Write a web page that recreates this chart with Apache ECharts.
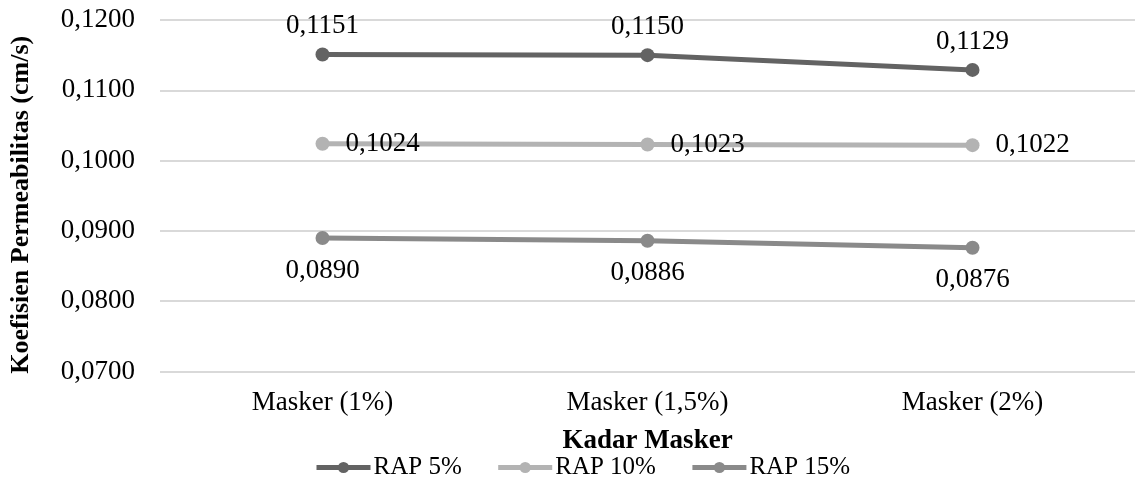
<!DOCTYPE html>
<html><head><meta charset="utf-8">
<script src="https://cdn.jsdelivr.net/npm/echarts@6/dist/echarts.min.js"></script>
<style>html,body{margin:0;padding:0;background:#fff}#c{width:1135px;height:486px}</style>
</head><body><div id="c"></div>
<script>
const categories = ['Masker (1%)', 'Masker (1,5%)', 'Masker (2%)'];
const rap5 = [0.1151, 0.1150, 0.1129];
const rap10 = [0.1024, 0.1023, 0.1022];
const rap15 = [0.0890, 0.0886, 0.0876];
const seriesNames = ['RAP 5%', 'RAP 10%', 'RAP 15%'];
const colors = ['#636363', '#b3b3b3', '#8a8a8a'];
const font = 'Liberation Serif';
const FS = 27;
const fmt = v => v.toFixed(4).replace('.', ',');

const chart = echarts.init(document.getElementById('c'));
function mk(name, data, color, pos, dist) {
  return {
    name, type: 'line', data, symbol: 'circle', symbolSize: 14,
    lineStyle: { color, width: 5 }, itemStyle: { color },
    label: { show: true, position: pos, distance: dist, color: '#000',
      fontFamily: font, fontSize: FS, formatter: p => fmt(p.value) },
    z: 3
  };
}
chart.setOption({
  animation: false,
  textStyle: { fontFamily: font },
  grid: { left: 153, width: 989, top: 20, bottom: 114.5, containLabel: false },
  xAxis: {
    type: 'category', data: categories, boundaryGap: true,
    axisLine: { show: false }, axisTick: { show: false },
    axisLabel: { color: '#000', fontFamily: font, fontSize: FS, margin: 18 },
    name: 'Kadar Masker', nameLocation: 'middle', nameGap: 56,
    nameTextStyle: { color: '#000', fontFamily: font, fontSize: FS, fontWeight: 'bold' }
  },
  yAxis: {
    type: 'value', min: 0.07, max: 0.12, interval: 0.01,
    axisLine: { show: false }, axisTick: { show: false },
    splitLine: { lineStyle: { color: '#d9d9d9', width: 2 } },
    axisLabel: { color: '#000', fontFamily: font, fontSize: FS, margin: 25, formatter: v => fmt(v) },
    name: 'Koefisien Permeabilitas (cm/s)', nameLocation: 'middle', nameGap: 126,
    nameTextStyle: { color: '#000', fontFamily: font, fontSize: 26, fontWeight: 'bold', padding: [0, 18, 0, 0] }
  },
  legend: {
    bottom: 1, left: 309, itemWidth: 54, itemHeight: 14, itemGap: 34,
    lineStyle: { width: 5 },
    textStyle: { color: '#000', fontFamily: font, fontSize: 25, padding: [0, 0, 0, -2] },
    data: seriesNames
  },
  series: [
    mk(seriesNames[0], rap5, colors[0], 'top', 8),
    mk(seriesNames[1], rap10, colors[1], 'right', 16),
    mk(seriesNames[2], rap15, colors[2], 'bottom', 12)
  ]
});
</script></body></html>
